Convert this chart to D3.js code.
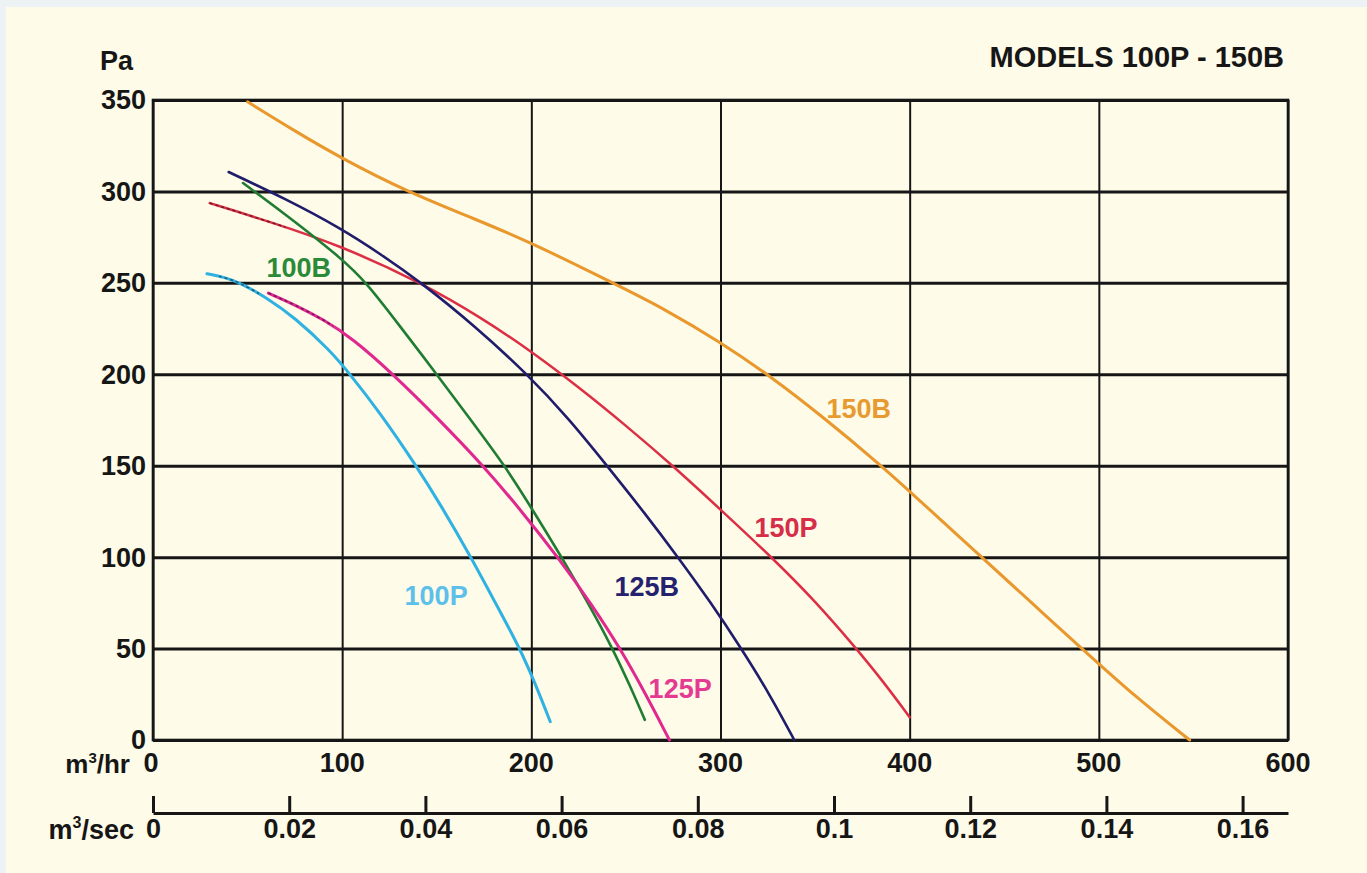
<!DOCTYPE html>
<html>
<head>
<meta charset="utf-8">
<script src="https://cdn.jsdelivr.net/npm/d3@7"></script>
<style>
  html, body { margin: 0; padding: 0; background: #edf2f4; }
  svg { display: block; }
  text { font-family: "Liberation Sans", Arial, Helvetica, sans-serif; font-weight: bold; }
</style>
</head>
<body>
<svg id="chart" width="1367" height="873"></svg>
<script>
// ---- data (flow m³/hr, pressure Pa) ----
const curve150B = [[50,349],[75,333],[99,318.5],[134,300],[170,285],[200,272],[243,250],[270,236],[300,217.5],[325,200],[355,176],[385,150],[400,136],[438,100],[465,74.5],[491,50],[520,23],[548,0]];
const curve150P = [[30,293.6],[60,284],[99,270.5],[142,250],[175,230],[200,212.5],[225,193],[250,172],[277,148],[300,126],[328,99],[350,76],[371,51],[386,32],[400,12.5]];
const curve125B = [[40,310.6],[70,296],[99,280],[120,266],[142,250],[170,226.5],[198,200],[220,175.5],[240,150],[260,124],[277.5,100],[295,75],[311,50],[326,25],[339,0]];
const curve100B = [[47.6,304.6],[70,287.5],[99,264],[113,250],[130,227],[150,200],[168,175],[186,150],[200,127],[216,100],[230,75],[243,50],[252,30],[260,11]];
const curve125P = [[61,244.4],[75,238],[90,230],[105,220],[127,200],[150,176.5],[174.6,150],[195,125],[214,100],[232,74],[247,50],[260,26],[273,0]];
const curve100P = [[28.5,255],[38,253],[46,250],[60,242],[75,231],[93.6,213],[103,201.5],[120,179],[138.5,151],[153,127],[167.5,101],[181,75],[194,50],[202,31],[210,10]];

const seriesNames = ["150B","150P","125B","100B","125P","100P"];
const seriesData  = [curve150B, curve150P, curve125B, curve100B, curve125P, curve100P];
// label anchor (m³/hr, Pa) for each series name
const labelAnchors = [[356,176],[318,111],[244,79],[60,253],[262,23],[133,74]];
// flow ranges drawn with a dark dashed overlay (as in the printed chart)
const dashedRanges = {"150P":[30,70],"125P":[61,95],"100P":[36,56]};

const yTicks = [0,50,100,150,200,250,300,350];
const xTicks = [0,100,200,300,400,500,600];
const secTickLabels = ["0","0.02","0.04","0.06","0.08","0.1","0.12","0.14","0.16"];

const titleText = "MODELS 100P - 150B";

// ---- styling ----
const colors = {"150B":"#e8982c","150P":"#dc2f45","125B":"#1f1d6b","100B":"#1f7d33","125P":"#e0288e","100P":"#2fb2e2"};
const dashColors = {"150P":"#5a1820","125P":"#5a1850","100P":"#1d4a60"};
const labelColors = {"150B":"#e89a30","150P":"#d62d48","125B":"#24226e","100B":"#2b8a3a","125P":"#e43a92","100P":"#5cc0ea"};
const widths = {"150B":3,"150P":2.5,"125B":2.6,"100B":2.6,"125P":3,"100P":3};

const svg = d3.select("#chart");
svg.append("rect").attr("x",6).attr("y",7).attr("width",1361).attr("height",866).attr("fill","#fefbe8");

const L = 153, R = 1288, T = 100, B = 740;
const x = d3.scaleLinear().domain([0,600]).range([L,R]);
const y = d3.scaleLinear().domain([0,350]).range([B,T]);
const xs = d3.scaleLinear().domain([0,600/3600]).range([L,R]);

const ink = "#161616";

// vertical grid
const gx = svg.append("g").attr("transform",`translate(0,${B})`)
  .call(d3.axisBottom(x).tickValues(xTicks).tickSize(-(B-T)).tickSizeOuter(0).tickFormat(""));
gx.select(".domain").remove();
gx.selectAll(".tick line").attr("stroke",ink).attr("stroke-width",2);

// horizontal grid + labels
const gy = svg.append("g").attr("transform",`translate(${L},0)`)
  .call(d3.axisLeft(y).tickValues(yTicks).tickSize(-(R-L)).tickSizeOuter(0).tickPadding(8));
gy.select(".domain").remove();
gy.selectAll(".tick line").attr("stroke",ink).attr("stroke-width",3);
gy.selectAll(".tick text").attr("font-size",27).attr("fill",ink)
  .attr("font-family","Liberation Sans, Arial, sans-serif").attr("font-weight","bold")
  .attr("dy","0.33em").attr("x",-7);

// frame
svg.append("rect").attr("x",L).attr("y",T).attr("width",R-L).attr("height",B-T)
  .attr("fill","none").attr("stroke",ink).attr("stroke-width",2.6);

// x labels (m³/hr)
svg.append("g").selectAll("text").data(xTicks).join("text")
  .attr("x",d=>x(d) + (d===0?-2:0)).attr("y",B+32).attr("text-anchor","middle")
  .attr("font-size",27).attr("fill",ink).text(d=>d);

const hrLab = svg.append("text").attr("x",130).attr("y",B+33).attr("text-anchor","end").attr("font-size",26).attr("fill",ink);
hrLab.append("tspan").text("m");
hrLab.append("tspan").attr("font-size",15).attr("dy",-10).text("3");
hrLab.append("tspan").attr("dy",10).text("/hr");

// secondary axis (m³/sec)
const secVals = secTickLabels.map(Number);
const gs = svg.append("g").attr("transform",`translate(0,813)`)
  .call(d3.axisBottom(xs).tickValues(secVals).tickSizeInner(-17).tickSizeOuter(0)
    .tickPadding(6).tickFormat((d,i)=>secTickLabels[i]));
gs.select(".domain").attr("stroke",ink).attr("stroke-width",3);
gs.selectAll(".tick line").attr("stroke",ink).attr("stroke-width",3);
gs.selectAll(".tick text").attr("font-size",27).attr("fill",ink)
  .attr("font-family","Liberation Sans, Arial, sans-serif").attr("font-weight","bold");

const secLab = svg.append("text").attr("x",134).attr("y",839).attr("text-anchor","end").attr("font-size",27).attr("fill",ink);
secLab.append("tspan").text("m");
secLab.append("tspan").attr("font-size",16).attr("dy",-11).text("3");
secLab.append("tspan").attr("dy",11).text("/sec");

// Pa and title
svg.append("text").attr("x",100).attr("y",70).attr("font-size",27).attr("fill",ink).text("Pa");
svg.append("text").attr("x",1284).attr("y",67).attr("text-anchor","end").attr("font-size",29).attr("fill",ink).text(titleText);

// curves
const line = d3.line().x(d=>x(d[0])).y(d=>y(d[1])).curve(d3.curveBasis);
const defs = svg.append("defs");
seriesNames.forEach((name,i)=>{
  svg.append("path").datum(seriesData[i]).attr("d",line)
    .attr("fill","none").attr("stroke",colors[name]).attr("stroke-width",widths[name])
    .attr("stroke-linecap","round").attr("stroke-linejoin","round");
  const r = dashedRanges[name];
  if (r) {
    const id = "clip" + name;
    defs.append("clipPath").attr("id",id).append("rect")
      .attr("x",x(r[0])-2).attr("y",T).attr("width",x(r[1])-x(r[0])+2).attr("height",B-T);
    svg.append("path").datum(seriesData[i]).attr("d",line).attr("clip-path",`url(#${id})`)
      .attr("fill","none").attr("stroke",dashColors[name]).attr("stroke-width",1.6)
      .attr("stroke-dasharray","3,3").attr("opacity",0.8);
  }
});

// curve labels
seriesNames.forEach((name,i)=>{
  svg.append("text").attr("x",x(labelAnchors[i][0])).attr("y",y(labelAnchors[i][1]))
    .attr("font-size",27).attr("fill",labelColors[name]).text(name);
});
</script>
</body>
</html>
